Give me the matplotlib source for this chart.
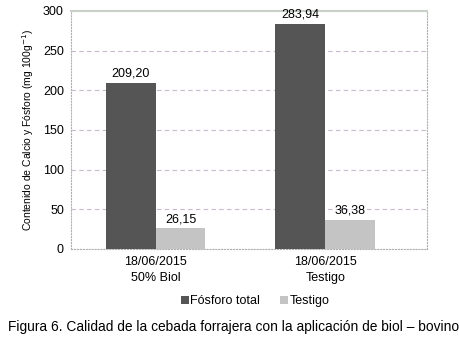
import matplotlib.pyplot as plt
import numpy as np

categories = ["18/06/2015\n50% Biol", "18/06/2015\nTestigo"]
fosforo = [209.20, 283.94]
testigo = [26.15, 36.38]
series_names = ["Fósforo total", "Testigo"]
value_labels_f = ["209,20", "283,94"]
value_labels_t = ["26,15", "36,38"]

plt.rcParams["font.family"] = ["Liberation Sans", "DejaVu Sans"]

fig = plt.figure(figsize=(4.6, 3.42), dpi=100)
ax = fig.add_axes([0.154, 0.272, 0.774, 0.696])

x = np.arange(len(categories))
w = 0.294
b1 = ax.bar(x - w / 2, fosforo, w, color="#555555", label=series_names[0], zorder=3)
b2 = ax.bar(x + w / 2, testigo, w, color="#c4c4c4", label=series_names[1], zorder=3)

for rect, lab in zip(b1, value_labels_f):
    ax.text(rect.get_x() + rect.get_width() / 2, rect.get_height() + 4, lab,
            ha="center", va="bottom", fontsize=9)
for rect, lab in zip(b2, value_labels_t):
    ax.text(rect.get_x() + rect.get_width() / 2, rect.get_height() + 4, lab,
            ha="center", va="bottom", fontsize=9)

ax.set_ylim(0, 300)
ax.set_xlim(-0.5, 1.6)
ax.set_yticks(range(0, 301, 50))
ax.set_xticks(x)
ax.set_xticklabels(categories, fontsize=9, linespacing=1.45)
ax.tick_params(axis="y", labelsize=9, length=0, pad=5)
ax.tick_params(axis="x", length=0, pad=5)
ax.yaxis.grid(True, linestyle=(0, (4, 3)), color="#c8b8d0", linewidth=0.8, zorder=0)

for side in ["left", "bottom", "right"]:
    ax.spines[side].set_color("#b0b0b0")
    ax.spines[side].set_linestyle(":")
ax.spines["top"].set_color("#c8d0c8")
ax.spines["top"].set_linewidth(1.5)

ax.set_ylabel("Contenido de Calcio y Fósforo (mg 100g$^{-1}$)", fontsize=7.5, labelpad=5)

fig.legend(loc="center", bbox_to_anchor=(0.555, 0.12), ncol=2, frameon=False,
           fontsize=9, handlelength=0.6, handleheight=0.6, handletextpad=0.15,
           columnspacing=1.6)

fig.text(0.017, 0.044, "Figura 6. Calidad de la cebada forrajera con la aplicación de biol – bovino",
         fontsize=9.9, ha="left", va="center")

fig.savefig("out.png", dpi=100)
